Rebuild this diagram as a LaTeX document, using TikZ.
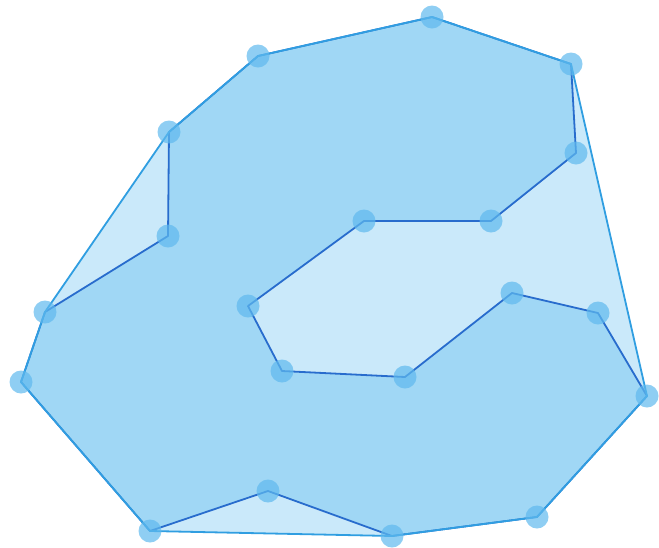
\documentclass[tikz,border=0pt]{standalone}
\definecolor{polyfill}{RGB}{160,215,245}
\definecolor{hullfill}{RGB}{202,233,250}
\definecolor{polyedge}{RGB}{40,108,205}
\definecolor{hulledge}{RGB}{48,158,225}
\definecolor{dotcol}{RGB}{95,185,238}
\tikzset{
  polyline/.style={draw=polyedge, line width=1.8pt, line join=round},
  hullline/.style={draw=hulledge, line width=1.8pt, line join=round},
  vdot/.style={circle, fill=dotcol, fill opacity=0.7, minimum size=23pt, inner sep=0pt}
}
\begin{document}
\begin{tikzpicture}[x=1pt,y=-1pt]
\useasboundingbox (0,0) rectangle (659,547);
\coordinate (p1) at (432,17);
\coordinate (p2) at (571,64);
\coordinate (p3) at (576,153);
\coordinate (p4) at (491,221);
\coordinate (p5) at (364,221);
\coordinate (p6) at (248,306);
\coordinate (p7) at (282,371);
\coordinate (p8) at (405,377);
\coordinate (p9) at (512,293);
\coordinate (p10) at (598,313);
\coordinate (p11) at (647,396);
\coordinate (p12) at (537,517);
\coordinate (p13) at (392,536);
\coordinate (p14) at (268,491);
\coordinate (p15) at (150,531);
\coordinate (p16) at (21,382);
\coordinate (p17) at (45,312);
\coordinate (p18) at (168,236);
\coordinate (p19) at (169,132);
\coordinate (p20) at (258,56);
% hull fill
\fill[hullfill] (p1) -- (p2) -- (p11) -- (p12) -- (p13) -- (p15) -- (p16) -- (p17) -- (p19) -- (p20) -- cycle;
% polygon
\path[fill=polyfill, polyline] (p1) -- (p2) -- (p3) -- (p4) -- (p5) -- (p6) -- (p7) -- (p8) -- (p9) -- (p10) -- (p11) -- (p12) -- (p13) -- (p14) -- (p15) -- (p16) -- (p17) -- (p18) -- (p19) -- (p20) -- cycle;
% hull edges
\draw[hullline] (p1) -- (p2) -- (p11) -- (p12) -- (p13) -- (p15) -- (p16) -- (p17) -- (p19) -- (p20) -- cycle;
% vertex dots
\foreach \i in {1,...,20} { \node[vdot] (d\i) at (p\i) {}; }
\end{tikzpicture}
\end{document}
